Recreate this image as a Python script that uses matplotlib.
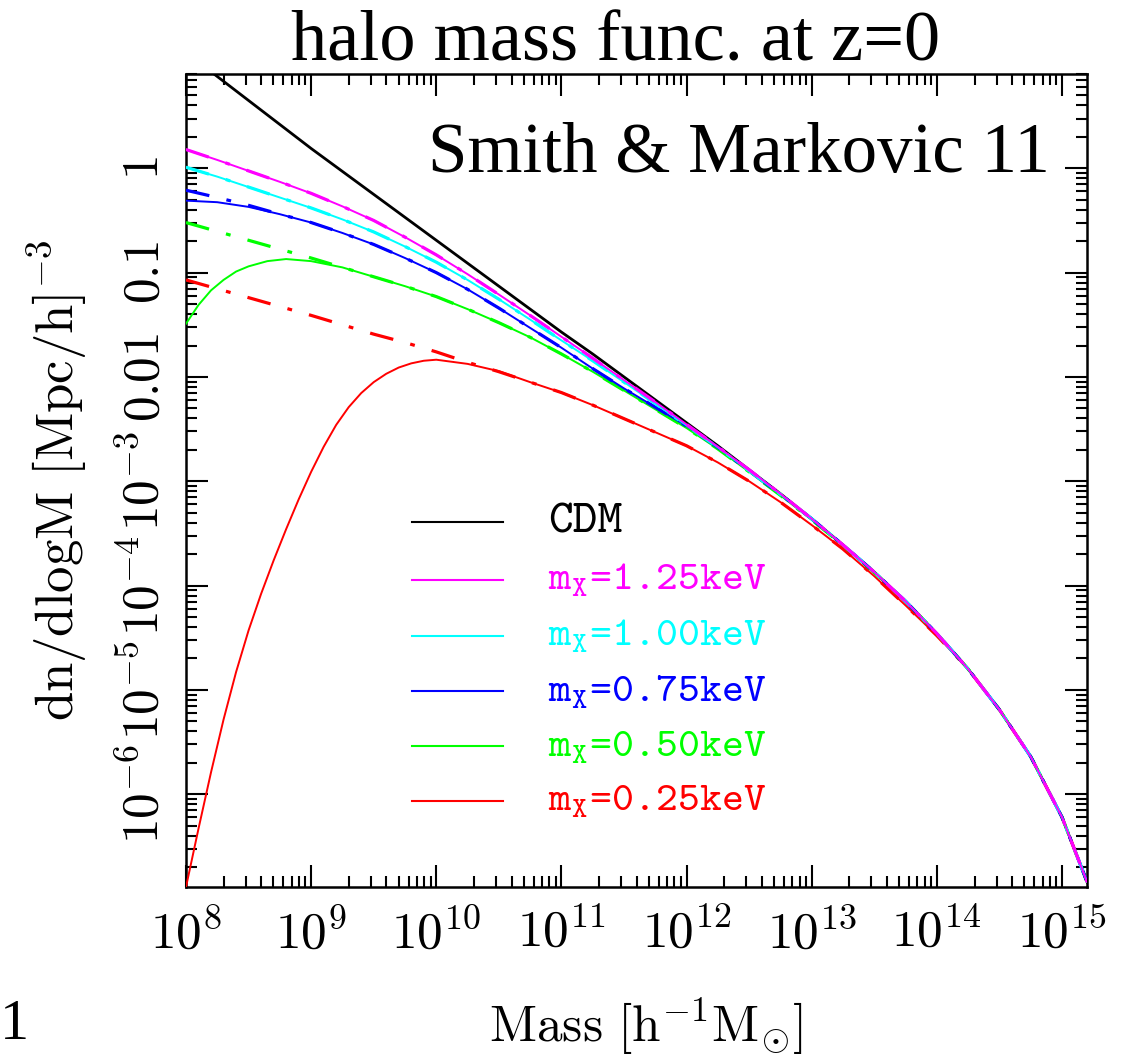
import numpy as np
import matplotlib.pyplot as plt
from matplotlib.ticker import LogLocator, NullFormatter

plt.rcParams['mathtext.fontset'] = 'cm'
plt.rcParams['font.family'] = 'serif'
plt.rcParams['font.serif'] = ['Liberation Serif', 'DejaVu Serif']

# log10 of mass [h^-1 Msun]
logm = [8.0, 8.25, 8.5, 8.75, 9.0, 9.25, 9.5, 9.75, 10.0, 10.25, 10.5, 10.75,
        11.0, 11.25, 11.5, 11.75, 12.0, 12.25, 12.5, 12.75, 13.0, 13.25, 13.5,
        13.75, 14.0, 14.25, 14.5, 14.75, 15.0, 15.2]
logm_g = [8.0, 8.1, 8.2, 8.3, 8.4, 8.5, 8.65, 8.8,
          9.0, 9.25, 9.5, 9.75, 10.0, 10.25, 10.5, 10.75, 11.0, 11.25, 11.5,
          11.75, 12.0, 12.25, 12.5, 12.75, 13.0, 13.25, 13.5, 13.75, 14.0,
          14.25, 14.5, 14.75, 15.0, 15.2]
logm_r = [8.0, 8.1, 8.2, 8.3, 8.4, 8.5, 8.6, 8.7, 8.8, 8.9, 9.0, 9.1, 9.2,
          9.3, 9.4, 9.5, 9.6, 9.7, 9.8, 9.9, 10.0,
          10.25, 10.5, 10.75, 11.0, 11.25, 11.5, 11.75, 12.0, 12.25, 12.5,
          12.75, 13.0, 13.25, 13.5, 13.75, 14.0, 14.25, 14.5, 14.75, 15.0, 15.2]

# log10 dn/dlogM [(Mpc/h)^-3]
cdm = [1.11, 0.88, 0.65, 0.42, 0.19, -0.03, -0.25, -0.47, -0.69, -0.91, -1.13, -1.35,
       -1.57, -1.78, -2.00, -2.22, -2.44, -2.66, -2.89, -3.12, -3.36, -3.61, -3.87,
       -4.15, -4.46, -4.80, -5.19, -5.64, -6.22, -6.84]
m125 = [0.18, 0.08, -0.025, -0.13, -0.24, -0.365, -0.50, -0.66, -0.83, -1.015, -1.21, -1.41,
        -1.615, -1.82, -2.03, -2.24, -2.455, -2.67, -2.89, -3.12, -3.36, -3.61, -3.87,
        -4.15, -4.46, -4.80, -5.19, -5.64, -6.22, -6.84]
m100 = [0.01, -0.08, -0.18, -0.28, -0.38, -0.49, -0.61, -0.75, -0.90, -1.07, -1.255, -1.45,
        -1.65, -1.845, -2.05, -2.255, -2.465, -2.675, -2.90, -3.125, -3.36, -3.61, -3.87,
        -4.15, -4.46, -4.80, -5.19, -5.64, -6.22, -6.84]
m075 = [-0.31, -0.325, -0.37, -0.44, -0.52, -0.62, -0.73, -0.86, -1.00, -1.16, -1.34, -1.53,
        -1.72, -1.92, -2.11, -2.29, -2.47, -2.675, -2.90, -3.125, -3.36, -3.61, -3.87,
        -4.15, -4.46, -4.80, -5.19, -5.64, -6.22, -6.84]
m050 = [-1.49, -1.31, -1.17, -1.07, -0.99, -0.94, -0.89, -0.87,
        -0.89, -0.95, -1.04, -1.13, -1.23, -1.35, -1.48, -1.62, -1.78, -1.95, -2.13,
        -2.31, -2.49, -2.69, -2.91, -3.135, -3.37, -3.615, -3.875, -4.15, -4.46,
        -4.80, -5.19, -5.64, -6.22, -6.84]
m025 = [-6.89, -6.33, -5.79, -5.285, -4.83, -4.43, -4.08, -3.76, -3.46, -3.175, -2.91,
        -2.67, -2.46, -2.29, -2.155, -2.05, -1.97, -1.91, -1.87, -1.845, -1.835,
        -1.875, -1.945, -2.05, -2.15, -2.27, -2.40, -2.53, -2.66, -2.82, -3.00,
        -3.20, -3.42, -3.65, -3.91, -4.19, -4.48, -4.80, -5.19, -5.64, -6.22, -6.84]

# dash-dot versions, only differ at the low mass end
dd075_low = [-0.21, -0.28, -0.355, -0.44]
dd050_low = [-0.52, -0.605, -0.69, -0.775, -0.86, -0.95]
dd025_low = [-1.07, -1.155, -1.24, -1.325, -1.41, -1.50, -1.59, -1.67, -1.76, -1.86, -1.95]

labels = ['CDM', r'$\mathtt{m_X}$=1.25keV', r'$\mathtt{m_X}$=1.00keV',
          r'$\mathtt{m_X}$=0.75keV', r'$\mathtt{m_X}$=0.50keV', r'$\mathtt{m_X}$=0.25keV']
colors = ['black', '#ff00ff', '#00ffff', '#0000ff', '#00ff00', '#ff0000']

# (x, solid, dashdot x, dashdot y)
curves = [
    (logm, m125, logm, m125),
    (logm, m100, logm, m100),
    (logm, m075, logm, dd075_low + m075[4:]),
    (logm_g, m050, logm[:6] + logm_g[10:], dd050_low + m050[10:]),
    (logm_r, m025, logm[:11] + logm_r[23:], dd025_low + m025[23:]),
]

fig = plt.figure(figsize=(11.29, 10.57), dpi=100)
ax = fig.add_axes([186/1129, 1-887/1057, 901/1129, 813/1057])

handles = []
h, = ax.plot(10**np.array(logm), 10**np.array(cdm), color='black', lw=2.0, zorder=3)
handles.append(h)
lines = {}
# red first so magenta ends up on top
for i in [4, 3, 2, 1, 0]:
    x, y, xd, yd = curves[i]
    c = colors[i+1]
    ax.plot(10**np.array(xd), 10**np.array(yd), color=c, lw=2.3,
            ls=(0, (7.5, 5.5, 1.5, 5.5)), zorder=4)
    l, = ax.plot(10**np.array(x), 10**np.array(y), color=c, lw=1.4, zorder=4)
    lines[i] = l
for i in range(5):
    handles.append(lines[i])

ax.set_xscale('log')
ax.set_yscale('log')
ax.set_xlim(1e8, 10**15.2)
ax.set_ylim(10**-6.89, 10**0.904)

xt = [10.0**k for k in range(8, 16)]
ax.set_xticks(xt, [r'$10^{%d}$' % k for k in range(8, 16)])
yt = [10.0**k for k in range(-6, 1)]
ax.set_yticks(yt, [r'$10^{-6}$', r'$10^{-5}$', r'$10^{-4}$', r'$10^{-3}$',
                   r'$0.01$', r'$0.1$', r'$1$'])
for a in [ax.xaxis, ax.yaxis]:
    a.set_minor_locator(LogLocator(base=10, subs=np.arange(2, 10), numticks=100))
    a.set_minor_formatter(NullFormatter())

ax.tick_params(which='both', direction='in', top=True, right=True, width=1.5)
ax.tick_params(which='major', length=16)
ax.tick_params(which='minor', length=8)
ax.tick_params(axis='x', labelsize=37, pad=16)
ax.tick_params(axis='y', labelsize=37, pad=12, labelrotation=90)
for lab in ax.get_yticklabels():
    lab.set_verticalalignment('center')
for s in ax.spines.values():
    s.set_linewidth(1.8)

ax.set_xlabel(r'$\mathrm{Mass\ [h^{-1}M_{\odot}]}$', fontsize=37)
ax.xaxis.set_label_coords(0.51, -0.134)
ax.set_ylabel(r'$\mathrm{dn/dlogM\ [Mpc/h]^{-3}}$', fontsize=38)
ax.yaxis.set_label_coords(-0.107, 0.5)

leg = ax.legend(handles, labels, loc='upper left',
                bbox_to_anchor=(0.2505, 0.472), frameon=False,
                prop={'family': 'cmtt10', 'size': 30},
                handlelength=2.18, handletextpad=1.09, handleheight=0.0,
                labelspacing=0.45, borderpad=0, borderaxespad=0,
                labelcolor='linecolor')
for l in leg.get_lines():
    l.set_linewidth(1.5)
leg.get_texts()[0].set_fontsize(34)

ax.text(0.959, 0.879, 'Smith & Markovic 11', transform=ax.transAxes,
        fontsize=51, ha='right', va='baseline')
fig.text(0.545, 0.943, 'halo mass func. at z=0', fontsize=52, ha='center', va='baseline')
fig.text(0.0, 0.017, '1', fontsize=42, ha='left', va='baseline')

fig.savefig('out.png', dpi=100)
